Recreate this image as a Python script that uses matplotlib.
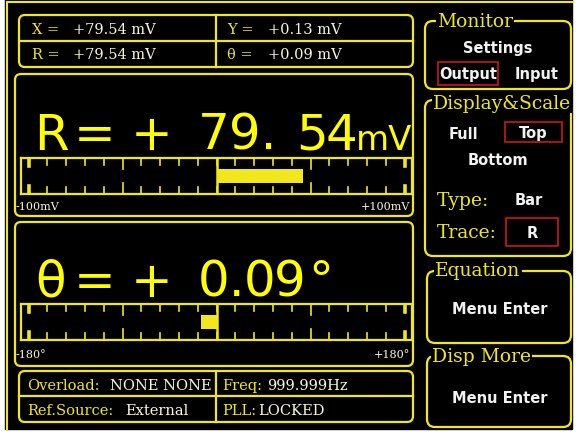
import numpy as np
import matplotlib.pyplot as plt
from matplotlib.patches import FancyBboxPatch, Rectangle

W, H = 576, 435

# readings shown on the screen
x_text = "+79.54 mV"
y_text = "+0.13 mV"
r_text = "+79.54 mV"
th_text = "+0.09 mV"

r_value = 79.54     # big R readout, mV
th_value = 0.09     # big theta readout, deg

# filled length of the meter bars as drawn
r_bar = 46          # mV, meter range +-100
th_bar = -15        # deg, meter range +-180
r_span = 100
th_span = 180

status_names = ["Overload:", "Freq:", "Ref.Source:", "PLL:"]
status_values = ["NONE NONE", "999.999Hz", "External", "LOCKED"]

YEL = "#f0e81c"
BRIGHT = "#ffff00"
PALE = "#fbf7d8"
WHITE = "#f2f2f2"
RED = "#b8161c"
SERIF = "DejaVu Serif"
BIG = "DejaVu Sans"
BOLD = "DejaVu Sans"

fig = plt.figure(figsize=(W / 100, H / 100), dpi=100, facecolor="white")
ax = fig.add_axes([0, 0, 1, 1])
ax.set_xlim(0, W)
ax.set_ylim(H, 0)
ax.axis("off")

ax.add_patch(Rectangle((5, 0), 567, 430, color="black", zorder=0))
ax.plot([7, 572], [3, 3], color=YEL, lw=1.5)
ax.plot([7, 7], [3, 430], color=YEL, lw=1.5)


def box(x0, y0, x1, y1, r=6):
    ax.add_patch(FancyBboxPatch((x0, y0), x1 - x0, y1 - y0,
                                boxstyle=f"round,pad=0,rounding_size={r}",
                                fc="none", ec=YEL, lw=1.6, zorder=2))


def redbox(x0, y0, x1, y1):
    ax.add_patch(Rectangle((x0, y0), x1 - x0, y1 - y0, fc="none", ec=RED, lw=1.3, zorder=2))


def title(x, y, s):
    ax.text(x, y, s, color=YEL, family=SERIF, fontsize=13.5, ha="left", va="center",
            bbox=dict(fc="black", ec="none", pad=1), zorder=3)


def btn(x, y, s):
    ax.text(x, y, s, color=WHITE, family=BOLD, fontweight="bold", fontsize=10.5,
            ha="center", va="center", zorder=3)


# top readings
box(19, 16, 413, 68)
ax.plot([19, 413], [42, 42], color=YEL, lw=1.6)
ax.plot([216, 216], [16, 68], color=YEL, lw=1.6)
for lab, val, x, y in [("X =", x_text, 32, 30), ("Y =", y_text, 227, 30),
                       ("R =", r_text, 32, 55), ("θ =", th_text, 227, 55)]:
    ax.text(x, y, lab, color=YEL, family=SERIF, fontsize=10.5, va="center")
    ax.text(x + 41, y, val, color=PALE, family=SERIF, fontsize=10.5, va="center")

# big readouts
box(15, 75, 413, 217)
box(15, 223, 413, 367)


def readout(sym, value, unit, y, frac_xs, unit_x, unit_size):
    ip, fp = f"{value:.2f}".split(".")
    for c, x in zip([sym, "=", "+"], [51, 95, 152]):
        ax.text(x, y, c, color=BRIGHT, family=BIG, fontsize=36, ha="center", va="baseline")
    ax.text(198, y, ip + ".", color=BRIGHT, family=BIG, fontsize=36, ha="left", va="baseline")
    for c, x in zip(fp, frac_xs):
        ax.text(x, y, c, color=BRIGHT, family=BIG, fontsize=36, ha="center", va="baseline")
    ax.text(unit_x, y, unit, color=BRIGHT, family=BIG, fontsize=unit_size,
            ha="center", va="baseline")


readout("R", r_value, "mV", 150, [312.5, 341.5], 384, 24.5)
readout("θ", th_value, "°", 297, [260, 290], 321, 36)


def meter(y0, y1, fill, span, lo, hi, ly):
    m = fig.add_axes([21 / W, 1 - y1 / H, (412 - 21) / W, (y1 - y0) / H])
    lim = span * 195.5 / 188
    m.set_xlim(-lim, lim)
    m.set_ylim(0, 1)
    m.set_facecolor("black")
    m.set_xticks([])
    m.set_yticks([])
    for s in m.spines.values():
        s.set_color(YEL)
        s.set_linewidth(1.6)
    for t in np.linspace(-span, span, 21):
        if abs(abs(t) - span) < 1e-9:
            L, lw = 0.22, 2.6
        elif abs(abs(t) - span / 2) < 1e-9:
            L, lw = 0.3, 1.2
        else:
            L, lw = 0.2, 1.2
        m.plot([t, t], [1, 1 - L], color=YEL, lw=lw)
        m.plot([t, t], [0, L], color=YEL, lw=lw)
    m.axvline(0, color=YEL, lw=1.8)
    m.barh(0.5, fill, height=0.38, color=YEL)
    ax.text(16, ly, lo, color=PALE, family=SERIF, fontsize=8, ha="left", va="center")
    ax.text(410, ly, hi, color=PALE, family=SERIF, fontsize=8, ha="right", va="center")


meter(159, 195, r_bar, r_span, "-100mV", "+100mV", 207)
meter(305, 341, th_bar, th_span, "-180°", "+180°", 355)

# status box
box(19, 372, 413, 423)
ax.plot([19, 413], [397, 397], color=YEL, lw=1.6)
ax.plot([216, 216], [372, 423], color=YEL, lw=1.6)
pos = [(27, 110, 386), (222, 267, 386), (27, 125, 411), (222, 258, 411)]
for name, val, (xn, xv, y) in zip(status_names, status_values, pos):
    ax.text(xn, y, name, color=YEL, family=SERIF, fontsize=10.5, va="center")
    ax.text(xv, y, val, color=PALE, family=SERIF, fontsize=10.5, va="center")

# right-hand menu
box(425, 22, 571, 90, r=8)
title(437, 22, "Monitor")
btn(498, 48, "Settings")
redbox(438, 63, 498, 86)
btn(468, 75, "Output")
btn(537, 75, "Input")

box(425, 101, 571, 257, r=8)
title(433, 104, "Display&Scale")
btn(463, 135, "Full")
redbox(505, 123, 562, 143)
btn(533, 134, "Top")
btn(498, 161, "Bottom")
ax.text(437, 201, "Type:", color=YEL, family=SERIF, fontsize=13.5, va="center")
btn(529, 201, "Bar")
ax.text(437, 233, "Trace:", color=YEL, family=SERIF, fontsize=13.5, va="center")
redbox(506, 219, 558, 247)
btn(532, 234, "R")

box(427, 272, 571, 344, r=8)
title(435, 271, "Equation")
btn(500, 310, "Menu Enter")

box(427, 357, 571, 428, r=8)
title(432, 357, "Disp More")
btn(500, 399, "Menu Enter")

fig.savefig("out.png", dpi=100, facecolor="white")
